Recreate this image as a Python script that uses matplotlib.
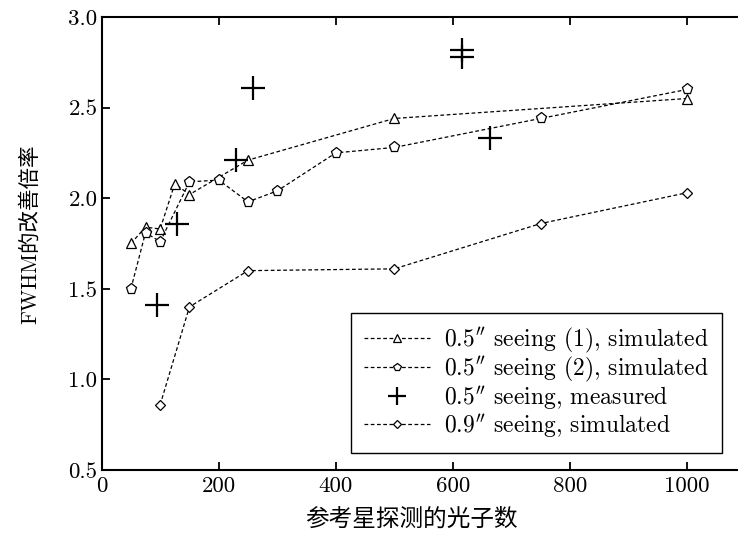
import numpy as np
import matplotlib
matplotlib.use('Agg')
import matplotlib.pyplot as plt

plt.rcParams['font.family'] = ['cmr10', 'Noto Sans CJK SC']
plt.rcParams['mathtext.fontset'] = 'cm'
plt.rcParams['axes.formatter.use_mathtext'] = True
plt.rcParams['axes.unicode_minus'] = False

# 0.5" seeing (1), simulated
x_sim1 = [50, 75, 100, 125, 150, 250, 500, 1000]
y_sim1 = [1.75, 1.84, 1.83, 2.08, 2.02, 2.21, 2.44, 2.55]

# 0.5" seeing (2), simulated
x_sim2 = [50, 75, 100, 150, 200, 250, 300, 400, 500, 750, 1000]
y_sim2 = [1.50, 1.81, 1.76, 2.09, 2.10, 1.98, 2.04, 2.25, 2.28, 2.44, 2.60]

# 0.5" seeing, measured
x_meas = [95, 128, 230, 258, 615, 615, 663]
y_meas = [1.41, 1.86, 2.21, 2.61, 2.78, 2.82, 2.33]

# 0.9" seeing, simulated
x_sim9 = [100, 150, 250, 500, 750, 1000]
y_sim9 = [0.86, 1.40, 1.60, 1.61, 1.86, 2.03]

labels = [r'$0.5^{\prime\prime}$ seeing (1), simulated',
          r'$0.5^{\prime\prime}$ seeing (2), simulated',
          r'$0.5^{\prime\prime}$ seeing, measured',
          r'$0.9^{\prime\prime}$ seeing, simulated']

xticks = [0, 200, 400, 600, 800, 1000]
yticks = [0.5, 1.0, 1.5, 2.0, 2.5, 3.0]

fig = plt.figure(figsize=(7.38, 5.37), dpi=100)
ax = fig.add_axes([0.1377, 0.1248, 0.8726, 0.8436])

line_kw = dict(color='black', linestyle='--', linewidth=0.9, dashes=(3, 2),
               markerfacecolor='white', markeredgecolor='black', markeredgewidth=0.9)
ax.plot(x_sim1, y_sim1, marker='^', markersize=7, label=labels[0], **line_kw)
ax.plot(x_sim2, y_sim2, marker='p', markersize=8, label=labels[1], **line_kw)
ax.plot(x_meas, y_meas, linestyle='none', marker='+', markersize=17,
        markeredgewidth=1.6, color='black', label=labels[2])
ax.plot(x_sim9, y_sim9, marker='D', markersize=5.5, label=labels[3], **line_kw)

ax.set_xlim(0, 1100)
ax.set_ylim(0.5, 3.0)
ax.set_xticks(xticks)
ax.set_yticks(yticks)
ax.set_xticklabels([str(t) for t in xticks])
ax.set_yticklabels([f'{t:.1f}' for t in yticks])
ax.tick_params(direction='in', top=True, right=True, length=6, width=1.3,
               labelsize=16.5)
ax.tick_params(axis='y', pad=3)
ax.tick_params(axis='x', pad=5)
for s in ax.spines.values():
    s.set_linewidth(1.5)

ax.set_xlabel('参考星探测的光子数', fontsize=17)
ax.set_ylabel('FWHM的改善倍率', fontsize=15.5)
ax.xaxis.set_label_coords(0.481, -0.086)
ax.yaxis.set_label_coords(-0.095, 0.52)

leg = ax.legend(loc='lower right', bbox_to_anchor=(0.963, 0.0375), fontsize=17,
                frameon=True, fancybox=False, edgecolor='black', framealpha=1,
                handlelength=2.8, markerscale=0.75, borderpad=0.55,
                borderaxespad=0, labelspacing=0.0, handletextpad=0.6)
leg.get_frame().set_linewidth(1.0)

fig.savefig('out.png', dpi=100)
